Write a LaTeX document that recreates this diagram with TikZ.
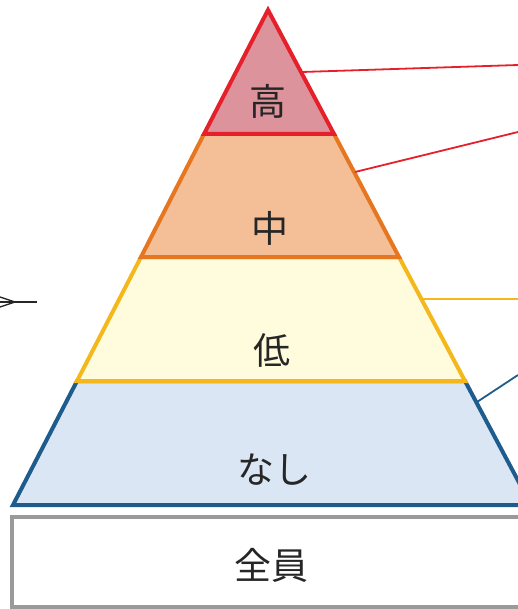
\documentclass[tikz,border=0pt]{standalone}
\usepackage{fontspec}
\newfontfamily\cjk{Noto Sans CJK JP}
\definecolor{redB}{HTML}{E5202A}
\definecolor{redF}{HTML}{DC939B}
\definecolor{oraB}{HTML}{E6761F}
\definecolor{oraF}{HTML}{F4BE97}
\definecolor{yelB}{HTML}{F4B81D}
\definecolor{yelF}{HTML}{FFFCDD}
\definecolor{bluB}{HTML}{1D5C8C}
\definecolor{bluF}{HTML}{DAE6F4}
\definecolor{boxB}{HTML}{9A9A9A}
\tikzset{
  band/.style={line width=4pt, line join=miter},
  lbl/.style={font=\cjk\fontsize{37}{40}\selectfont, text=black!85, inner sep=0pt},
  conn/.style={line width=1.8pt}
}
\begin{document}
\begin{tikzpicture}[x=1pt,y=-1pt]
\useasboundingbox (0,0) rectangle (518,609);
\clip (0,0) rectangle (518,609);
% pyramid corner coordinates
\coordinate (apex) at (268,10);
\coordinate (l1) at (204,134);  \coordinate (r1) at (334,134);
\coordinate (l2) at (141,257);  \coordinate (r2) at (399,257);
\coordinate (l3) at (77,381);   \coordinate (r3) at (465,381);
\coordinate (l4) at (13,505);   \coordinate (r4) at (531,505);
% bands (bottom to top)
\draw[band, draw=bluB, fill=bluF] (l3) -- (r3) -- (r4) -- (l4) -- cycle;
\draw[band, draw=yelB, fill=yelF] (l2) -- (r2) -- (r3) -- (l3) -- cycle;
\draw[band, draw=oraB, fill=oraF] (l1) -- (r1) -- (r2) -- (l2) -- cycle;
\draw[band, draw=redB, fill=redF] (apex) -- (r1) -- (l1) -- cycle;
% labels
\node[lbl] (high) at (268,101) {高};
\node[lbl] (mid) at (270,228) {中};
\node[lbl] (low) at (272,350) {低};
\node[lbl] (none) at (274,470) {なし};
% bottom box
\draw[line width=3.5pt, draw=boxB, fill=white] (12,517) rectangle (532,607);
\node[lbl] (all) at (271,565) {全員};
% connectors
\coordinate (c1a) at (302,72);  \coordinate (c1b) at (518,65);
\coordinate (c2a) at (355,172); \coordinate (c2b) at (518,132);
\coordinate (c3a) at (423,299); \coordinate (c3b) at (518,299);
\coordinate (c4a) at (477,402); \coordinate (c4b) at (518,375);
\draw[conn, redB] (c1a) -- (c1b);
\draw[conn, redB] (c2a) -- (c2b);
\draw[conn, yelB] (c3a) -- (c3b);
\draw[conn, bluB] (c4a) -- (c4b);
% left arrow fragment
\coordinate (a0) at (0,302); \coordinate (a1) at (37,302);
\coordinate (t) at (15,302);
\draw[line width=1.4pt, black!85] (0,297) -- (t) -- (0,307);
\draw[line width=1.4pt, black!85] (a0) -- (a1);
\end{tikzpicture}
\end{document}
